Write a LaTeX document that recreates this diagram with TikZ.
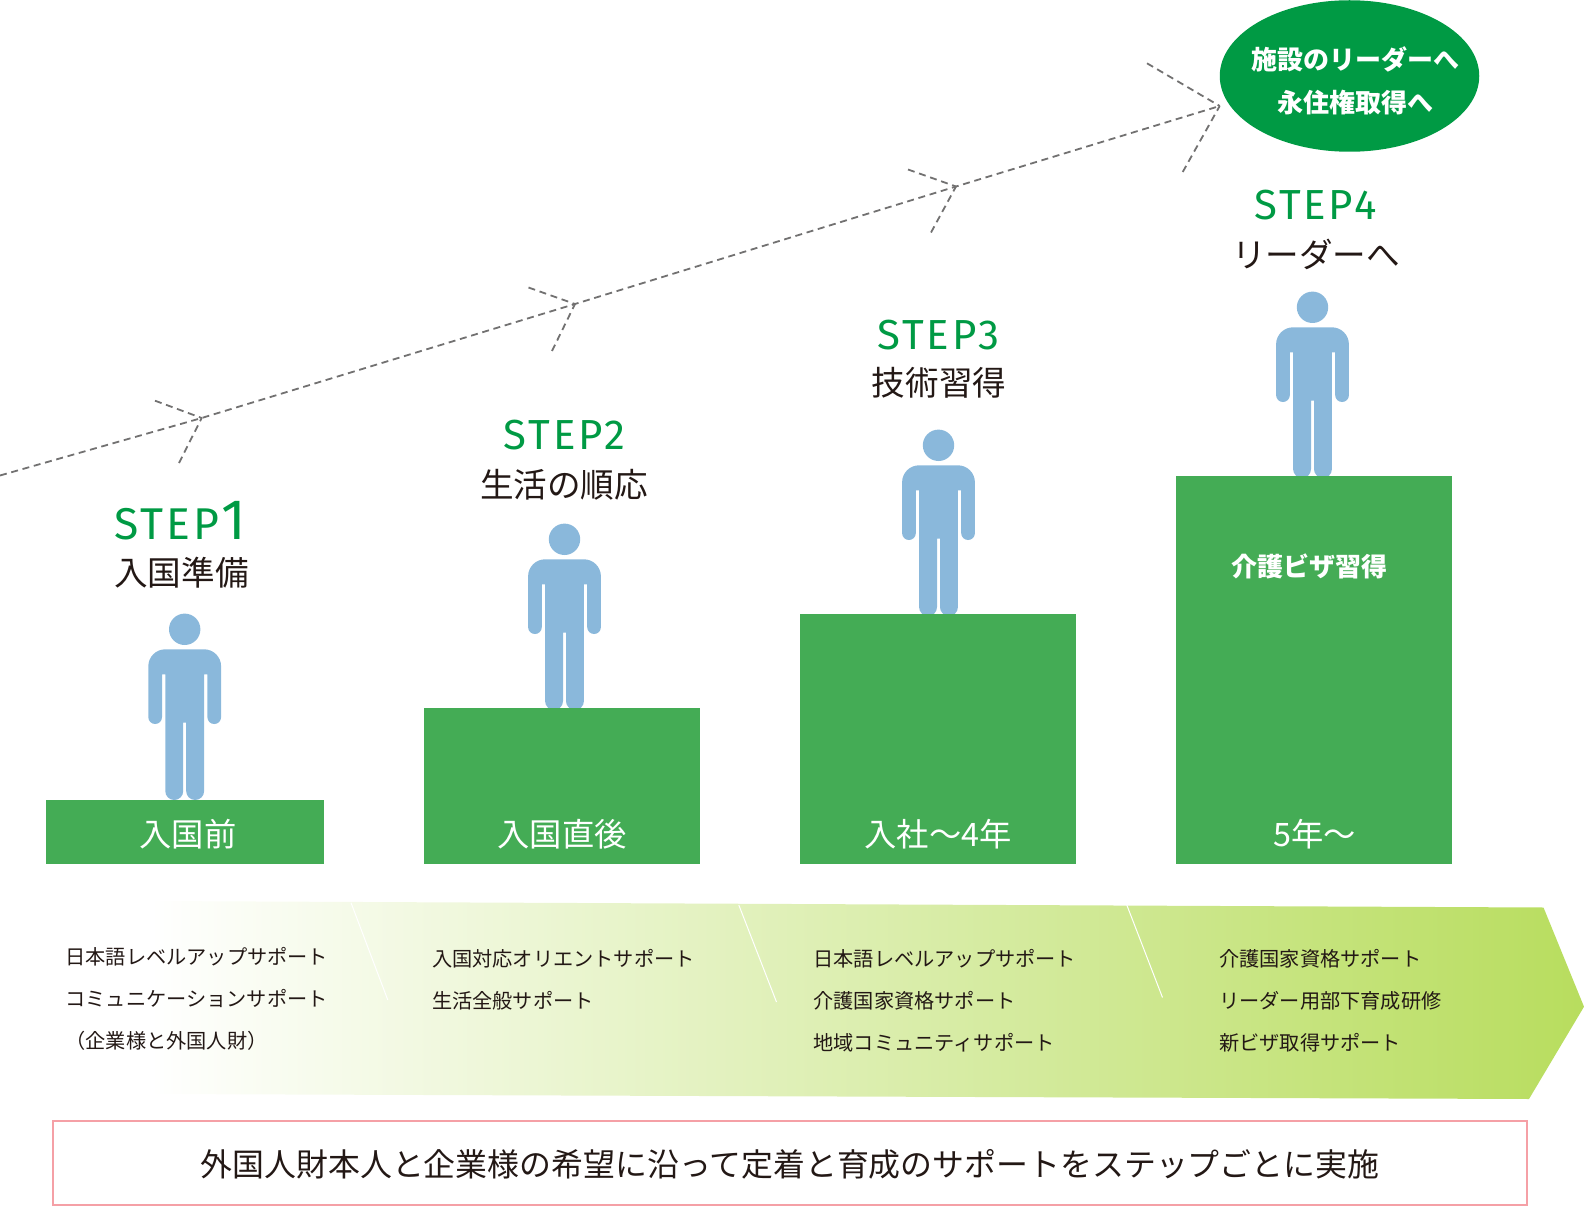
\documentclass[tikz,border=0pt]{standalone}
\usepackage{fontspec}
\setmainfont{Noto Sans CJK JP}
\newfontfamily\stepfont[LetterSpace=6.5]{Fira Sans}
\usetikzlibrary{arrows.meta,shapes.geometric,positioning,calc}
\usepackage{xcolor}
\definecolor{stepgreen}{HTML}{009A44}
\definecolor{boxgreen}{HTML}{44AC55}
\definecolor{figblue}{HTML}{8AB8DB}
\definecolor{darktext}{HTML}{231815}
\definecolor{dashgray}{HTML}{727171}
\definecolor{bandgreen}{HTML}{B8DD5E}
\definecolor{framepink}{HTML}{F5A0A6}
\newcommand{\fs}[1]{\fontsize{#1}{#1}\selectfont}
\tikzset{
  stagebox/.style={fill=boxgreen},
  stagelbl/.style={white, font=\fs{32.3}},
  steplbl/.style={stepgreen, font=\stepfont\fs{42}},
  titlelbl/.style={darktext, font=\fs{33.6}},
  supportlbl/.style={darktext, anchor=west, font=\fs{20.2}},
  goallbl/.style={white, font=\bfseries\fs{26}},
  dashline/.style={dashgray, line width=1.8pt, dash pattern=on 7pt off 4.7pt},
  person/.pic={
    \fill[figblue] (0,-170.7) circle (15.7);
    \fill[figblue] (-19.4,-125.7) -- (-22.7,-125.7)
      [rounded corners=6.8pt] -- (-22.7,-76) -- (-36.4,-76)
      [rounded corners=17pt] -- (-36.4,-150.7) -- (36.4,-150.7)
      [rounded corners=6.8pt] -- (36.4,-76) -- (22.7,-76)
      [sharp corners] -- (22.7,-125.7) -- (19.4,-125.7)
      [rounded corners=8.9pt] -- (19.4,0) -- (1.5,0)
      [sharp corners] -- (1.5,-77.3) -- (-1.5,-77.3)
      [rounded corners=8.9pt] -- (-1.5,0) -- (-19.4,0)
      [sharp corners] -- cycle;
  }
}
\begin{document}
\begin{tikzpicture}[x=1pt, y=-1pt]
  \useasboundingbox (0,0) rectangle (1585,1206);
  %% ── Top: goal ellipse and rising dashed line ───────────────
  \node[ellipse, fill=stepgreen, inner sep=0pt, minimum width=259.5pt,
    minimum height=151.5pt] (goal) at (1349.5,76) {};
  \node[goallbl] (goalA) at (1355.5,59.5) {施設のリーダーへ};
  \node[goallbl] (goalB) at (1355.5,102.5) {永住権取得へ};
  \coordinate (lineStart) at (0,475.5);
  \coordinate (tipA) at (201.7,418);
  \coordinate (tipB) at (575,304);
  \coordinate (tipC) at (956,186.5);
  \coordinate (tipD) at (1219.7,106);
  \draw[dashline] (lineStart) -- (tipA) -- (tipB) -- (tipC) -- (tipD);
  %% Arrow barbs along the line
  \coordinate (barbA1) at (155,400.7);
  \coordinate (barbA2) at (179,463);
  \coordinate (barbB1) at (528.5,287.5);
  \coordinate (barbB2) at (552,351);
  \coordinate (barbC1) at (908,169.5);
  \coordinate (barbC2) at (931,232.5);
  \coordinate (barbD1) at (1147,63.3);
  \coordinate (barbD2) at (1182.7,172);
  \foreach \t in {A,B,C,D}{
    \draw[dashline] (barb\t1) -- (tip\t);
    \draw[dashline] (barb\t2) -- (tip\t);
  }

  %% ── Middle: figures standing on stage blocks ───────────────
  \pic at (184.7,800) {person};
  \pic at (564.5,710) {person};
  \pic at (938.5,616) {person};
  \pic at (1312.5,478) {person};
  \fill[stagebox] (45.5,800) rectangle (323.5,864);
  \fill[stagebox] (423.5,708) rectangle (699.5,864);
  \fill[stagebox] (799.5,613.5) rectangle (1075.5,864);
  \fill[stagebox] (1175.5,476) rectangle (1451.5,864);
  \node[stagelbl] (stageA) at (188,834) {入国前};
  \node[stagelbl] (stageB) at (562,834) {入国直後};
  \node[stagelbl] (stageC) at (938,834) {入社〜4年};
  \node[stagelbl] (stageD) at (1314.5,834) {5年〜};
  \node[white, font=\bfseries\fs{26}] (visa) at (1309,566) {介護ビザ習得};

  %% Step headings
  \node[stepgreen, font=\stepfont\fs{44.5}, anchor=base west, inner sep=0pt]
    (stepA) at (114.5,539.3) {STEP};
  \node[stepgreen, font=\stepfont\fs{57}, anchor=base east, inner sep=0pt]
    (numA) at (246,539.3) {1};
  \node[titlelbl] (titleA) at (181.5,573) {入国準備};
  \node[steplbl] (stepB) at (564.5,435) {STEP2};
  \node[titlelbl] (titleB) at (564,485) {生活の順応};
  \node[steplbl] (stepC) at (938.5,335) {STEP3};
  \node[titlelbl] (titleC) at (939,383) {技術習得};
  \node[steplbl] (stepD) at (1315.5,205) {STEP4};
  \node[titlelbl] (titleD) at (1316,254) {リーダーへ};

  %% ── Bottom: support band ───────────────────────────────────
  \shade[left color=white, right color=bandgreen]
    (150,901) -- (1543.5,907.5) -- (1584,1006.7) -- (1529,1099) -- (150,1094) -- cycle;
  \draw[white, line width=1pt] (351,902.7) -- (387.8,1000);
  \draw[white, line width=1pt] (738.8,905) -- (776.5,1002);
  \draw[white, line width=1pt] (1126.8,905) -- (1162.5,997.5);
  \node[supportlbl] (supA1) at (62,956.7) {日本語レベルアップサポート};
  \node[supportlbl] (supA2) at (62,998) {コミュニケーションサポート};
  \node[supportlbl] (supA3) at (62,1040.5) {（企業様と外国人財）};
  \node[supportlbl] (supB1) at (428.6,959) {入国対応オリエントサポート};
  \node[supportlbl] (supB2) at (428.6,1000.5) {生活全般サポート};
  \node[supportlbl] (supC1) at (810,959) {日本語レベルアップサポート};
  \node[supportlbl] (supC2) at (810,1000.5) {介護国家資格サポート};
  \node[supportlbl] (supC3) at (810,1042.5) {地域コミュニティサポート};
  \node[supportlbl] (supD1) at (1215.7,959) {介護国家資格サポート};
  \node[supportlbl] (supD2) at (1215.7,1000.5) {リーダー用部下育成研修};
  \node[supportlbl] (supD3) at (1215.7,1042.5) {新ビザ取得サポート};

  %% Pink frame
  \draw[framepink, line width=2pt] (53,1120.7) rectangle (1526.8,1205);
  \node[darktext, font=\fs{31.9}] (summary) at (790,1164.5)
    {外国人財本人と企業様の希望に沿って定着と育成のサポートをステップごとに実施};
\end{tikzpicture}
\end{document}
